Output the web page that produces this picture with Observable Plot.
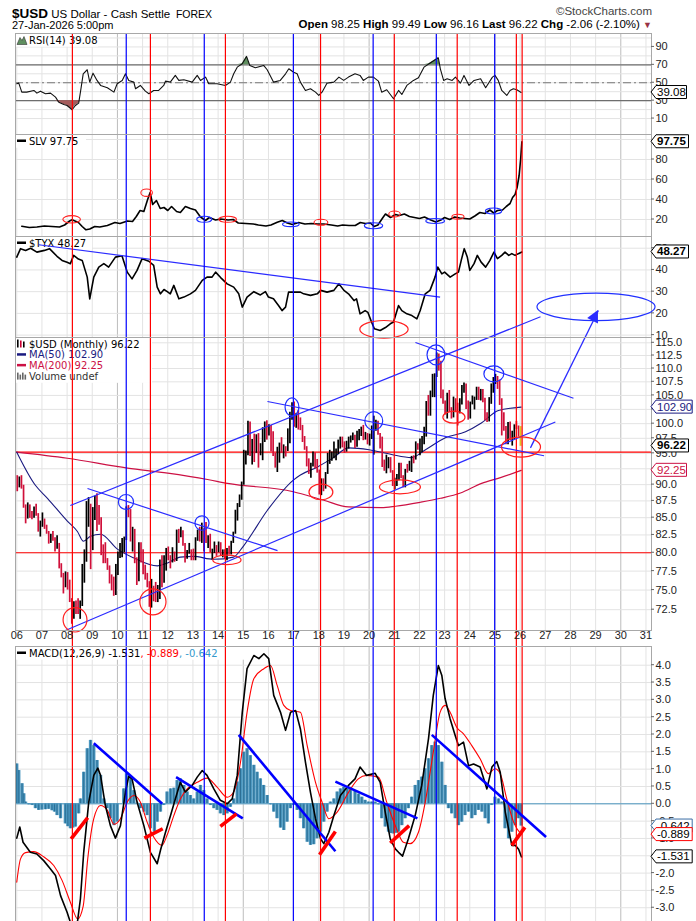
<!DOCTYPE html>
<html><head><meta charset="utf-8">
<script src="https://cdn.jsdelivr.net/npm/d3@7"></script>
<script src="https://cdn.jsdelivr.net/npm/@observablehq/plot@0.6"></script>
<style>
body{margin:0;background:#fff;}
#wrap{position:relative;width:696px;height:921px;overflow:hidden;font-family:'Liberation Sans',Arial,sans-serif;}
.pn{position:absolute;left:0;}
.pn svg{overflow:visible;}
.hd{position:absolute;white-space:nowrap;color:#000;}
</style></head><body><div id="wrap"></div>
<script>
// ---------- DATA ----------
const years = d3.range(2006, 2032);
const redDates = [2008.23, 2011.33, 2014.31, 2018.09, 2021.02, 2023.52, 2025.87, 2026.10];
const blueDates = [2010.37, 2013.47, 2017.01, 2020.18, 2022.69, 2025.01];

// $USD monthly bars Jan 2006 .. Jan 2026
const usdOpen0 = 91.2;
const usdClose = [
89.8,90.9,89.6,86.8,85.2,85.9,85.4,85.2,85.9,85.4,83.3,83.7,
84.9,83.6,82.9,81.6,82.3,81.9,80.6,81.0,78.0,76.7,76.0,76.7,
75.2,73.6,71.8,72.8,72.6,72.4,73.1,77.5,79.4,85.8,86.6,81.4,
86.1,88.0,85.4,85.2,80.2,80.1,78.8,78.4,76.8,76.5,75.0,77.9,
79.5,80.4,81.1,81.8,86.0,85.9,81.6,83.1,78.6,77.2,81.1,79.0,
77.5,76.8,75.9,72.9,74.6,74.3,74.1,74.1,78.6,76.2,78.5,80.2,
79.0,78.8,79.0,78.9,83.0,81.6,82.6,81.2,79.9,79.9,80.2,79.8,
79.3,82.0,83.0,81.5,83.3,83.1,81.5,82.0,80.2,80.2,80.7,80.0,
81.3,79.7,80.1,79.5,80.4,79.8,81.5,82.8,86.0,87.0,88.4,90.3,
94.8,95.3,98.4,94.6,96.9,95.5,97.3,96.0,96.4,97.0,100.2,98.6,
99.6,98.2,94.6,93.1,95.9,96.1,95.5,96.0,95.4,98.5,101.5,102.2,
99.5,101.1,100.4,99.1,97.0,95.6,92.9,92.7,93.1,94.6,93.0,92.1,
89.1,90.6,89.9,91.8,94.0,94.5,94.5,95.1,95.1,97.1,97.3,96.2,
95.6,96.2,97.3,97.5,97.8,96.1,98.5,98.9,99.4,97.4,98.3,96.4,
97.4,98.1,99.0,99.0,98.3,97.4,93.3,92.1,93.9,94.0,91.9,89.9,
90.6,90.9,93.2,91.3,90.0,92.4,92.2,92.6,94.2,94.1,96.0,95.7,
96.5,96.7,98.3,103.0,101.7,104.7,105.9,108.5,111.6,111.0,105.9,103.5,
102.1,104.9,102.5,101.7,104.3,102.9,101.9,103.6,106.2,106.7,103.5,101.3,
103.3,104.2,104.5,106.2,104.6,105.9,104.1,101.7,100.8,104.0,105.7,108.0,
108.2,107.3,104.2,99.5,99.3,96.9,100.0,97.8,97.8,99.8,99.5,98.25,
96.22];
const usdHigh = [
91.4,91.2,91.4,89.9,86.9,87.2,86.9,85.9,86.6,87.0,85.6,84.5,
85.7,84.8,83.9,83.0,82.6,83.0,82.1,82.4,81.3,78.5,77.2,77.4,
77.3,76.3,73.9,73.5,73.6,73.9,73.6,78.4,80.4,87.4,88.0,87.0,
86.5,88.2,88.6,86.8,85.0,81.1,81.4,79.2,78.2,77.0,76.7,78.4,
80.1,81.3,82.0,82.2,86.6,86.8,86.2,83.6,83.3,79.3,81.4,81.4,
80.4,78.3,77.2,76.1,76.4,75.5,76.0,75.6,79.0,79.6,79.6,80.6,
80.8,79.6,80.7,80.1,83.2,83.3,83.6,83.1,81.3,80.3,81.3,80.4,
80.5,82.1,83.2,83.6,84.2,83.4,84.3,82.4,82.6,80.5,81.5,81.0,
81.5,81.4,80.4,80.4,80.6,80.9,81.6,82.9,86.1,87.1,88.4,90.4,
95.5,95.4,100.4,100.3,97.3,98.2,98.1,98.3,96.6,99.3,100.3,100.5,
99.8,99.7,98.6,95.0,96.0,96.7,97.6,96.4,96.1,99.1,102.0,103.7,
103.8,101.8,102.3,101.0,99.7,97.8,96.1,94.1,93.4,95.2,95.1,94.0,
92.3,90.9,90.9,91.9,95.0,95.5,95.2,96.9,95.7,97.2,97.7,97.7,
96.9,97.0,97.7,97.9,98.4,98.0,98.7,99.0,99.4,99.7,98.5,98.3,
98.2,99.6,101.3,100.6,100.4,98.3,97.7,93.9,94.7,94.3,94.3,92.2,
91.0,91.6,93.4,93.4,91.4,92.4,93.2,93.7,94.5,94.6,96.9,96.6,
97.4,97.8,99.4,103.9,105.0,105.8,108.9,109.0,113.0,112.8,111.4,106.0,
104.0,105.4,105.9,102.8,104.7,104.4,103.6,104.4,106.8,107.3,107.1,104.0,
103.8,104.9,104.7,106.5,106.5,106.1,106.1,104.5,101.9,104.6,107.1,108.3,
108.9,108.5,107.8,104.4,101.9,99.5,100.2,100.3,98.7,99.8,100.4,99.6,
99.49];
const usdLow = [
88.9,89.5,89.3,86.4,84.1,84.8,84.9,84.7,84.9,85.2,82.9,82.2,
83.6,83.3,82.6,81.2,81.3,81.6,80.1,80.5,77.8,76.6,74.5,75.3,
75.0,73.4,70.7,71.3,71.9,71.9,71.3,72.9,75.9,78.7,83.6,77.7,
80.3,84.6,83.0,83.9,79.6,78.5,78.5,77.6,75.8,74.9,74.2,74.3,
76.9,79.2,79.3,80.0,81.7,85.0,81.5,80.1,78.5,75.6,76.1,78.6,
77.0,76.3,75.3,72.8,72.7,73.5,73.4,73.4,73.8,75.3,75.9,77.5,
78.9,77.8,78.6,78.7,78.8,81.3,82.1,80.9,78.6,79.1,79.8,78.9,
78.9,78.9,81.6,81.5,81.3,80.1,81.3,80.6,80.0,79.0,79.9,79.5,
80.0,79.5,79.3,79.1,78.9,79.7,79.7,81.3,82.6,84.5,86.5,87.6,
89.9,93.1,94.6,94.5,93.1,93.5,95.0,92.6,94.6,93.8,96.8,97.2,
97.9,95.2,94.5,92.6,91.9,93.4,95.0,94.1,94.4,95.3,96.6,100.6,
99.4,99.2,98.9,98.8,96.8,95.5,92.8,91.6,91.0,92.8,92.5,91.8,
88.4,88.3,88.9,89.3,91.6,93.2,93.7,94.1,93.8,94.8,95.7,95.9,
95.0,95.2,95.7,96.7,97.1,95.8,96.0,97.1,97.8,97.1,97.2,96.4,
96.2,97.3,94.7,98.7,98.0,95.7,92.7,92.1,91.7,92.5,91.8,89.7,
89.2,89.7,90.6,90.9,89.5,89.5,91.8,92.1,91.9,93.3,93.9,95.5,
94.6,95.1,96.4,97.7,101.3,101.3,104.6,104.6,108.3,109.5,104.4,103.4,
101.5,100.8,101.9,100.8,101.0,101.9,99.6,101.7,103.3,105.4,102.5,100.6,
100.8,103.3,102.4,104.1,104.1,104.0,103.7,100.5,100.2,100.3,103.4,105.4,
107.0,106.1,103.2,97.9,98.7,96.4,96.4,97.1,96.2,97.2,99.0,97.7,
96.16];

const ma50 = [[2006.0,95.2],[2006.74,89.9],[2007.22,87.9],[2008.01,84.5],[2008.41,83.0],[2008.65,81.6],[2008.93,82.3],[2009.33,82.6],[2010.0,80.5],[2010.64,79.3],[2011.59,78.2],[2011.99,78.6],[2012.5,79.4],[2013.02,79.5],[2013.82,79.1],[2014.61,79.4],[2015.0,80.9],[2015.96,86.1],[2016.99,90.7],[2017.27,91.5],[2017.95,92.8],[2018.58,94.3],[2019.18,95.9],[2020.0,95.6],[2020.89,94.8],[2021.68,94.3],[2022.24,95.6],[2023.03,97.6],[2023.83,98.6],[2024.46,100.1],[2025.14,102.3],[2026.04,102.9]];
const ma200 = [[2006.0,95.2],[2008.01,94.2],[2010.4,92.6],[2012.0,91.8],[2013.58,90.8],[2014.37,90.2],[2016.99,88.9],[2018.2,87.6],[2019.18,86.6],[2020.49,86.5],[2021.05,86.7],[2022.04,87.3],[2022.84,87.9],[2023.63,88.7],[2024.47,90.2],[2025.22,91.1],[2026.04,92.25]];

const rsi = [[2006.0,48.9],[2006.08,49.6],[2006.2,39.5],[2006.4,39.5],[2006.68,41.4],[2006.8,38.4],[2006.94,40.6],[2007.14,37.7],[2007.34,38.4],[2007.54,33.9],[2007.67,28.3],[2007.87,25.8],[2008.0,24.6],[2008.2,19.8],[2008.33,24.6],[2008.46,27.2],[2008.53,39.5],[2008.64,60.0],[2008.8,64.5],[2008.9,50.7],[2009.03,60.7],[2009.19,52.6],[2009.33,47.0],[2009.6,44.4],[2009.86,39.5],[2009.99,48.9],[2010.19,52.6],[2010.32,60.0],[2010.45,52.6],[2010.65,50.7],[2010.72,43.3],[2010.91,47.0],[2011.11,40.6],[2011.25,37.7],[2011.44,41.4],[2011.64,41.4],[2011.84,47.0],[2011.91,51.8],[2012.1,50.7],[2012.3,58.2],[2012.44,52.6],[2012.64,53.3],[2012.97,50.7],[2013.17,58.2],[2013.3,52.6],[2013.5,56.3],[2013.63,48.9],[2013.96,48.9],[2014.29,47.0],[2014.49,50.7],[2014.62,60.0],[2014.76,67.4],[2014.96,71.2],[2015.13,79.4],[2015.26,69.3],[2015.48,66.7],[2015.81,69.3],[2015.95,64.5],[2016.2,50.7],[2016.47,52.6],[2016.68,60.0],[2016.81,65.6],[2017.0,61.8],[2017.14,60.0],[2017.27,50.7],[2017.47,41.4],[2017.67,43.3],[2017.87,39.5],[2018.0,35.8],[2018.13,39.5],[2018.33,49.6],[2018.6,50.7],[2018.8,56.3],[2018.99,52.6],[2019.18,56.3],[2019.44,60.0],[2019.64,58.2],[2019.77,52.6],[2019.97,56.3],[2020.17,56.3],[2020.37,51.8],[2020.5,39.5],[2020.7,42.2],[2020.97,32.1],[2021.17,41.4],[2021.3,36.9],[2021.5,47.0],[2021.76,52.6],[2021.96,55.5],[2022.18,67.4],[2022.38,71.2],[2022.58,74.9],[2022.75,77.9],[2022.83,65.6],[2022.96,52.6],[2023.1,54.4],[2023.3,52.6],[2023.43,56.3],[2023.63,49.6],[2023.77,58.2],[2023.97,47.0],[2024.17,52.6],[2024.43,54.4],[2024.63,44.4],[2024.9,56.3],[2025.0,58.2],[2025.13,52.6],[2025.27,41.4],[2025.47,35.8],[2025.6,41.4],[2025.73,43.3],[2025.87,42.2],[2026.04,39.08]];

const slv = [[2006.2,13.3],[2006.5,12.0],[2006.8,12.5],[2007.1,13.5],[2007.4,13.0],[2007.7,12.5],[2007.9,14.5],[2008.1,18.5],[2008.2,19.7],[2008.45,17.0],[2008.6,13.0],[2008.75,9.7],[2008.9,10.5],[2009.1,13.0],[2009.3,12.5],[2009.6,14.0],[2009.9,17.0],[2010.1,16.0],[2010.4,18.5],[2010.6,18.0],[2010.75,23.0],[2010.9,29.0],[2011.05,28.0],[2011.2,40.0],[2011.3,47.0],[2011.4,35.0],[2011.55,39.0],[2011.7,31.0],[2011.85,32.0],[2012.0,29.0],[2012.15,33.0],[2012.35,28.0],[2012.5,27.0],[2012.7,33.0],[2012.9,31.0],[2013.1,29.5],[2013.3,22.5],[2013.5,19.0],[2013.65,22.0],[2013.9,19.5],[2014.1,20.5],[2014.4,19.5],[2014.6,20.0],[2014.8,16.5],[2015.1,16.0],[2015.4,15.5],[2015.6,14.5],[2015.9,13.5],[2016.1,14.5],[2016.35,17.3],[2016.55,19.0],[2016.75,16.5],[2016.95,15.0],[2017.2,17.0],[2017.45,15.5],[2017.7,16.0],[2017.95,15.5],[2018.2,15.5],[2018.5,14.5],[2018.75,13.5],[2018.95,14.5],[2019.2,14.0],[2019.45,14.0],[2019.65,17.0],[2019.85,16.0],[2020.05,16.5],[2020.2,13.0],[2020.35,14.5],[2020.55,22.0],[2020.65,25.5],[2020.85,22.0],[2021.05,25.0],[2021.2,24.0],[2021.4,25.5],[2021.6,23.0],[2021.8,22.0],[2022.0,21.0],[2022.2,22.5],[2022.45,19.5],[2022.65,17.5],[2022.85,19.5],[2023.0,22.0],[2023.2,20.0],[2023.4,22.5],[2023.6,21.5],[2023.8,21.0],[2024.0,20.5],[2024.2,23.5],[2024.4,27.0],[2024.6,26.0],[2024.8,29.5],[2024.95,26.5],[2025.1,29.0],[2025.3,29.5],[2025.45,33.0],[2025.6,36.0],[2025.7,42.0],[2025.8,45.0],[2025.88,52.0],[2025.96,64.0],[2026.02,80.0],[2026.07,97.75]];

const tyx = [[2006.0,45.9],[2006.15,49.8],[2006.35,49.0],[2006.55,50.0],[2006.8,48.2],[2007.1,49.0],[2007.3,49.8],[2007.6,46.3],[2007.8,44.4],[2008.0,43.5],[2008.13,42.9],[2008.26,46.7],[2008.45,45.0],[2008.6,44.4],[2008.8,36.7],[2008.9,26.7],[2009.06,36.7],[2009.26,41.3],[2009.46,42.9],[2009.65,41.3],[2009.92,45.9],[2010.18,46.5],[2010.39,39.0],[2010.58,35.9],[2010.78,39.8],[2010.98,45.2],[2011.25,44.0],[2011.44,42.1],[2011.58,32.1],[2011.71,29.0],[2011.85,31.0],[2011.98,30.0],[2012.1,29.0],[2012.24,32.9],[2012.44,26.7],[2012.64,27.5],[2012.9,29.0],[2013.1,30.6],[2013.37,35.2],[2013.56,36.7],[2013.76,36.7],[2013.9,39.0],[2014.1,36.5],[2014.36,33.6],[2014.62,32.1],[2014.82,29.0],[2014.96,22.9],[2015.15,27.5],[2015.42,30.0],[2015.68,28.5],[2015.88,30.0],[2016.0,27.5],[2016.2,26.7],[2016.4,23.6],[2016.54,21.3],[2016.68,22.9],[2016.8,29.8],[2017.0,29.8],[2017.27,29.8],[2017.4,29.0],[2017.67,28.3],[2017.94,29.0],[2018.07,30.6],[2018.33,29.8],[2018.6,30.6],[2018.8,33.6],[2019.0,30.6],[2019.18,29.0],[2019.4,25.9],[2019.5,26.7],[2019.64,19.8],[2019.84,21.3],[2019.95,20.5],[2020.1,15.9],[2020.21,12.9],[2020.44,12.1],[2020.65,13.5],[2020.84,15.2],[2020.97,16.0],[2021.17,23.6],[2021.3,21.3],[2021.5,19.8],[2021.7,19.0],[2021.9,17.5],[2022.03,21.3],[2022.23,29.0],[2022.42,30.6],[2022.62,36.7],[2022.73,41.3],[2022.89,38.2],[2023.0,39.0],[2023.22,36.7],[2023.42,38.2],[2023.55,39.0],[2023.66,44.4],[2023.78,49.8],[2023.9,46.0],[2024.0,39.8],[2024.17,42.9],[2024.3,46.7],[2024.45,43.6],[2024.63,41.3],[2024.8,44.4],[2024.96,48.2],[2025.1,45.2],[2025.27,46.7],[2025.4,48.2],[2025.55,46.7],[2025.67,47.5],[2025.8,46.7],[2025.93,47.5],[2026.07,48.27]];

const macd = [[2006.0,-0.99],[2006.12,-0.67],[2006.25,-1.11],[2006.54,-1.40],[2006.8,-1.45],[2007.07,-1.64],[2007.34,-1.88],[2007.54,-2.07],[2007.74,-2.65],[2008.0,-3.13],[2008.13,-3.42],[2008.4,-3.47],[2008.53,-2.74],[2008.66,-1.40],[2008.86,0.05],[2009.06,0.82],[2009.22,1.03],[2009.33,0.82],[2009.52,-0.05],[2009.72,-0.63],[2009.92,-0.99],[2010.12,-0.63],[2010.32,0.34],[2010.45,0.80],[2010.58,0.72],[2010.78,0.05],[2011.05,-0.63],[2011.31,-1.40],[2011.58,-1.73],[2011.71,-1.34],[2011.91,-0.82],[2012.11,-0.34],[2012.3,0.14],[2012.5,0.62],[2012.7,0.34],[2012.97,0.53],[2013.17,0.77],[2013.37,0.96],[2013.56,0.82],[2013.83,0.43],[2014.09,0.10],[2014.36,0.0],[2014.56,0.14],[2014.76,0.82],[2014.96,2.64],[2015.15,3.90],[2015.42,4.28],[2015.62,4.19],[2015.82,4.33],[2016.01,4.19],[2016.21,3.13],[2016.48,2.64],[2016.68,2.12],[2016.88,2.64],[2017.08,2.69],[2017.27,2.16],[2017.47,1.20],[2017.67,0.33],[2017.87,-0.43],[2018.07,-1.01],[2018.2,-1.15],[2018.4,-0.82],[2018.6,-0.34],[2018.86,0.24],[2019.18,0.53],[2019.44,0.72],[2019.64,1.06],[2019.9,0.82],[2020.24,0.88],[2020.44,0.62],[2020.64,-0.24],[2020.84,-1.01],[2021.04,-1.30],[2021.17,-1.40],[2021.33,-1.51],[2021.56,-1.01],[2021.83,-0.34],[2022.09,0.53],[2022.36,1.88],[2022.55,3.13],[2022.75,3.99],[2022.89,3.70],[2023.02,3.03],[2023.22,2.45],[2023.42,1.97],[2023.55,1.68],[2023.75,1.78],[2023.95,1.10],[2024.15,1.15],[2024.41,1.06],[2024.68,0.43],[2024.88,1.06],[2025.07,1.22],[2025.21,0.91],[2025.41,-0.24],[2025.67,-1.20],[2025.81,-1.20],[2025.94,-1.31],[2026.05,-1.531]];
const signal = [[2006.0,-2.26],[2006.15,-1.59],[2006.35,-1.41],[2006.67,-1.38],[2007.07,-1.53],[2007.47,-1.78],[2007.8,-2.21],[2008.13,-2.84],[2008.42,-3.32],[2008.64,-2.95],[2008.82,-1.59],[2009.06,-0.43],[2009.33,-0.05],[2009.6,-0.19],[2009.86,-0.59],[2010.12,-0.43],[2010.39,0.05],[2010.65,0.24],[2010.91,0.05],[2011.18,-0.53],[2011.44,-0.96],[2011.77,-1.20],[2011.97,-0.91],[2012.24,-0.34],[2012.5,0.14],[2012.77,0.43],[2013.17,0.62],[2013.56,0.74],[2013.96,0.48],[2014.36,0.19],[2014.62,0.34],[2014.89,1.20],[2015.15,2.64],[2015.42,3.61],[2015.82,3.90],[2016.08,3.99],[2016.35,3.41],[2016.61,2.84],[2016.88,2.69],[2017.27,2.64],[2017.54,1.68],[2017.87,0.62],[2018.13,0.05],[2018.4,-0.43],[2018.73,-0.24],[2019.18,0.33],[2019.57,0.72],[2019.9,0.82],[2020.37,0.77],[2020.7,0.05],[2021.04,-0.63],[2021.36,-1.11],[2021.63,-1.15],[2021.96,-0.82],[2022.23,0.05],[2022.55,1.49],[2022.82,2.64],[2023.02,2.84],[2023.22,2.64],[2023.48,2.21],[2023.75,2.02],[2024.08,1.68],[2024.41,1.30],[2024.74,0.87],[2025.0,1.01],[2025.21,0.87],[2025.47,0.14],[2025.74,-0.53],[2026.05,-0.889]];
const hist = [[2006.0,1.15],[2006.08,0.96],[2006.21,0.58],[2006.28,0.29],[2006.35,0.05],[2006.48,-0.03],[2006.61,-0.05],[2006.74,-0.14],[2006.87,-0.19],[2007.0,-0.18],[2007.14,-0.17],[2007.27,-0.16],[2007.4,-0.2],[2007.5,-0.24],[2007.6,-0.34],[2007.74,-0.43],[2007.93,-0.58],[2008.03,-0.66],[2008.13,-0.72],[2008.23,-0.70],[2008.33,-0.67],[2008.46,-0.29],[2008.53,0.14],[2008.66,0.91],[2008.8,1.59],[2008.93,1.83],[2009.06,1.68],[2009.19,1.25],[2009.33,0.82],[2009.46,0.14],[2009.59,-0.14],[2009.72,-0.43],[2009.86,-0.63],[2009.99,-0.53],[2010.12,0.0],[2010.25,0.43],[2010.36,0.87],[2010.52,0.77],[2010.65,0.38],[2010.78,0.02],[2010.91,-0.14],[2011.05,-0.24],[2011.18,-0.34],[2011.31,-0.72],[2011.47,-0.82],[2011.58,-0.53],[2011.71,-0.24],[2011.84,-0.05],[2011.97,0.34],[2012.11,0.43],[2012.24,0.45],[2012.37,0.67],[2012.5,0.72],[2012.64,0.53],[2012.77,0.34],[2012.9,0.24],[2013.03,0.14],[2013.17,0.34],[2013.3,0.53],[2013.43,0.38],[2013.56,0.14],[2013.7,-0.05],[2013.83,-0.14],[2013.96,-0.19],[2014.09,-0.29],[2014.23,-0.34],[2014.36,-0.29],[2014.49,-0.10],[2014.62,0.14],[2014.76,0.63],[2014.89,1.01],[2015.02,1.49],[2015.15,1.59],[2015.28,1.39],[2015.42,1.11],[2015.55,0.91],[2015.68,0.72],[2015.81,0.53],[2015.95,0.24],[2016.08,-0.03],[2016.21,-0.24],[2016.34,-0.43],[2016.48,-0.70],[2016.61,-0.77],[2016.74,-0.53],[2016.87,-0.14],[2017.0,-0.05],[2017.14,-0.19],[2017.27,-0.43],[2017.4,-0.72],[2017.54,-1.11],[2017.67,-1.20],[2017.8,-1.18],[2017.93,-1.01],[2018.07,-0.82],[2018.2,-0.53],[2018.33,-0.24],[2018.46,0.05],[2018.6,0.14],[2018.73,0.34],[2018.86,0.43],[2018.99,0.48],[2019.13,0.43],[2019.26,0.42],[2019.44,0.38],[2019.58,0.28],[2019.71,0.19],[2019.84,0.1],[2019.97,0.05],[2020.1,0.05],[2020.24,0.05],[2020.37,-0.03],[2020.5,-0.43],[2020.64,-0.67],[2020.77,-0.82],[2020.87,-0.86],[2020.97,-0.87],[2021.07,-0.85],[2021.17,-0.82],[2021.3,-0.63],[2021.43,-0.43],[2021.56,-0.14],[2021.69,0.19],[2021.83,0.53],[2021.96,0.67],[2022.09,0.77],[2022.22,1.01],[2022.36,1.30],[2022.49,1.68],[2022.62,1.78],[2022.75,1.68],[2022.89,1.20],[2023.02,0.53],[2023.15,-0.14],[2023.28,-0.29],[2023.42,-0.43],[2023.55,-0.63],[2023.68,-0.53],[2023.81,-0.34],[2023.95,-0.24],[2024.08,-0.43],[2024.21,-0.34],[2024.34,-0.19],[2024.48,-0.24],[2024.61,-0.43],[2024.74,-0.58],[2024.87,-0.05],[2025.0,0.19],[2025.14,0.14],[2025.27,0.05],[2025.4,-0.72],[2025.54,-1.01],[2025.67,-0.82],[2025.81,-0.63],[2025.94,-0.43],[2026.04,-0.642]];

// annotations (data coordinates: [x1, x2, yLow, yHigh] for ellipses, [x1,y1,x2,y2] for lines)
const usdRedEllipses = [[2007.86,2008.81,69.7,72.7],[2010.91,2011.95,71.8,75.1],[2013.81,2014.93,78.3,79.6],[2017.63,2018.58,87.6,90.0],[2020.43,2022.06,88.5,90.65],[2022.95,2023.83,100.0,102.1],[2025.28,2026.83,94.3,97.65]];
const usdBlueEllipses = [[2010.06,2010.66,86.15,88.4],[2013.10,2013.66,83.1,85.2],[2016.68,2017.23,101.25,104.45],[2019.85,2020.56,98.8,102.0],[2022.32,2023.03,110.6,114.5],[2024.58,2025.37,107.4,110.4],[2026.69,2031.38,119.4,125.2]];
const usdLines = [[2007.93,69.94,2027.4,100.3],[2008.13,86.8,2026.81,120.3],[2008.81,89.4,2016.36,80.3],[2015.96,103.9,2026.95,94.6],[2021.84,115.07,2028.12,104.5]];
const usdArrow = [[2026.41,95.9,2029.11,121.6]];
const usdRedLevels = [95.2, 80.0];
const slvRedEllipses = [[2007.85,2008.55,16.0,23.4],[2010.95,2011.41,42.6,50.0],[2014.05,2014.75,16.7,22.7],[2017.83,2018.38,13.7,19.7],[2020.8,2021.26,22,28],[2023.31,2023.79,19.8,24.8]];
const slvBlueEllipses = [[2013.17,2013.77,16.7,22.7],[2016.58,2017.24,12.4,17.0],[2019.83,2020.56,10.3,16.3],[2022.27,2023.02,15.5,20.5],[2024.64,2025.29,25,31]];
const tyxLines = [[2006.87,51.6,2022.82,27.5]];
const tyxRedEllipses = [[2019.65,2021.57,8.4,16.5]];
const macdBlueLines = [[2009.06,1.75,2011.78,0.0],[2012.33,0.77,2014.98,-0.42],[2014.82,1.99,2018.66,-1.37],[2018.66,0.64,2021.92,-0.42],[2022.49,1.99,2027.03,-0.96]];
const macdRedLines = [[2008.16,-1.01,2008.82,-0.40],[2011.07,-0.99,2011.8,-0.72],[2014.09,-0.65,2014.73,-0.29],[2018.03,-1.47,2018.66,-0.80],[2020.84,-1.13,2021.59,-0.63],[2025.67,-1.20,2026.19,-0.68]];

// axis ticks
const rsiTicks = [10,30,50,70,90], rsiGrid = [10,20,30,40,50,60,70,80,90,100];
const slvTicks = [20,40,60,80], slvGrid = [20,40,60,80,100];
const tyxTicks = [10,20,30,40,50];
const usdTicks = d3.range(72.5, 115.01, 2.5);
const macdTicks = d3.range(-3, 4.01, 0.5);
// last values
const last = {rsi:39.08, slv:97.75, tyx:48.27, usd:96.22, ma50:102.90, ma200:92.25, macd:-1.531, sig:-0.889, hist:-0.642};

// ---------- RENDER ----------
const X0 = 2005.95, X1 = 2031.22;
const wrap = document.getElementById("wrap");
const usd = usdClose.map((c,i)=>({t: 2006 + i/12 + 0.02, o: i ? usdClose[i-1] : usdOpen0, c, h: usdHigh[i], l: usdLow[i], last: i === usdClose.length-1}));
const fx = d=>d[0], fy = d=>d[1];

function vlines(list, color, w){
  return (index, scales, values, dims) => {
    const g = d3.create("svg:g");
    for (const t of list){ const x = scales.x(t);
      g.append("line").attr("x1",x).attr("x2",x).attr("y1",0).attr("y2",dims.height).attr("stroke",color).attr("stroke-width",w); }
    return g.node();
  };
}
function ellipses(list, color, w){
  return (index, scales) => {
    const g = d3.create("svg:g").attr("fill","none").attr("stroke",color).attr("stroke-width",w);
    for (const e of list){
      const xa=scales.x(e[0]), xb=scales.x(e[1]), ya=scales.y(e[2]), yb=scales.y(e[3]);
      g.append("ellipse").attr("cx",(xa+xb)/2).attr("cy",(ya+yb)/2).attr("rx",Math.abs(xb-xa)/2).attr("ry",Math.abs(yb-ya)/2);
    }
    return g.node();
  };
}
function arrowHead(list, color){
  return (index, scales) => {
    const g = d3.create("svg:g");
    for (const a of list){
      const x1=scales.x(a[0]), y1=scales.y(a[1]), x2=scales.x(a[2]), y2=scales.y(a[3]);
      const L=Math.hypot(x2-x1,y2-y1), ux=(x2-x1)/L, uy=(y2-y1)/L, hl=12, hw=6;
      const bx=x2-ux*hl, by=y2-uy*hl;
      g.append("path").attr("d",`M${x2},${y2}L${bx-uy*hw},${by+ux*hw}L${bx+uy*hw},${by-ux*hw}Z`).attr("fill",color);
    }
    return g.node();
  };
}
function rticks(list){
  return (index, scales, values, dims) => {
    const g = d3.create("svg:g").attr("stroke","#666");
    const x = dims.width - dims.marginRight;
    for (const v of list){ const y = scales.y(v); g.append("line").attr("x1",x).attr("x2",x+3).attr("y1",y).attr("y2",y); }
    return g.node();
  };
}
function tags(list){ // [value, label, stroke, text, bold]
  return (index, scales, values, dims) => {
    const g = d3.create("svg:g").attr("text-anchor","start").attr("font-family","'Liberation Sans',Arial,sans-serif");
    const x = dims.width - dims.marginRight;
    for (const [v, lab, st, tc, b] of list){
      const y = scales.y(v), w = lab.length*5.7 + (b?4:2);
      g.append("path").attr("d",`M${x},${y}L${x+5},${y-6.5}L${x+5+w},${y-6.5}L${x+5+w},${y+6.5}L${x+5},${y+6.5}Z`).attr("fill","#fff").attr("stroke",st);
      g.append("text").attr("x",x+6).attr("y",y+4).attr("font-size",11.5).attr("font-weight",b?"bold":"normal").attr("fill",tc).text(lab);
    }
    return g.node();
  };
}
function legend(rows, bgW){
  return () => {
    const g = d3.create("svg:g").attr("font-family","'DejaVu Sans',Verdana,sans-serif").attr("font-size",10).attr("text-anchor","start");
    g.append("rect").attr("x",16).attr("y",1).attr("width",bgW).attr("height",rows.length*10.7+2).attr("fill","#fff");
    rows.forEach((r,i) => {
      const y = 10.5 + i*10.7;
      if (r.icon === "dash") g.append("rect").attr("x",17).attr("y",y-5).attr("width",9).attr("height",2.5).attr("fill",r.ic);
      if (r.icon === "mount") g.append("path").attr("d",`M17,${y+1}L20,${y-6}L22,${y-3}L24,${y-7}L27,${y+1}Z`).attr("fill","#5f8f5f").attr("stroke","#333").attr("stroke-width",0.6);
      if (r.icon === "bars") { for (let k=0;k<3;k++) g.append("rect").attr("x",17+k*3).attr("y",y-8+k).attr("width",1.6).attr("height",8-k).attr("fill",k==1?"#cc0033":"#000"); }
      if (r.icon === "vol") { for (let k=0;k<4;k++) g.append("rect").attr("x",17+k*2.5).attr("y",y-7+(k%2)*2).attr("width",1.6).attr("height",7-(k%2)*2).attr("fill","#666"); }
      const t = g.append("text").attr("x",29).attr("y",y);
      for (const [s,c] of r.parts) t.append("tspan").attr("fill",c).text(s);
    });
    return g.node();
  };
}
const grids = () => [
  Plot.ruleX(years.filter(y=>y%5), {x:d=>d, stroke:"#e3e3e3"}),
  Plot.ruleX(years.filter(y=>y%5===0), {x:d=>d, stroke:"#bdbdbd"})
];
const verts = () => [vlines(blueDates, "#0000ff", 1.2), vlines(redDates, "#ff0000", 1.2)];
const axisLabels = (ticks, fmt) => [
  rticks(ticks),
  Plot.text(ticks, {y:d=>d, text:fmt, frameAnchor:"right", dx:4, textAnchor:"start", fontSize:11, fill:"#222"})
];
function panel(top, height, y, marks, mb=0){
  const svg = Plot.plot({
    width:696, height, marginLeft:15, marginRight:45, marginTop:0, marginBottom:mb,
    x:{domain:[X0,X1], axis:null}, y:{...y, axis:null},
    style:{background:"transparent", overflow:"visible", fontFamily:"'Liberation Sans',Arial,sans-serif", fontSize:"11px"},
    marks
  });
  const d = document.createElement("div"); d.className = "pn"; d.style.top = top+"px";
  d.appendChild(svg); wrap.appendChild(d);
}

// RSI
panel(33, 101, {domain:[-7.8,105]}, [
  ...grids(),
  Plot.ruleY(rsiGrid, {stroke:"#e3e3e3"}),
  Plot.ruleY([70,30], {stroke:"#6e6e6e", strokeWidth:1.2}),
  Plot.ruleY([50], {stroke:"#777", strokeDasharray:"8,3,2,3"}),
  legend([{icon:"mount", parts:[["RSI(14) "+last.rsi.toFixed(2),"#000"]]}], 82),
  Plot.areaY(rsi, {x:fx, y1:70, y2:d=>Math.max(70,d[1]), fill:"#5f8f5f"}),
  Plot.areaY(rsi, {x:fx, y1:d=>Math.min(30,d[1]), y2:30, fill:"#a45c5c"}),
  Plot.line(rsi, {x:fx, y:fy, stroke:"#111", strokeWidth:1.1}),
  ...verts(),
  Plot.frame({stroke:"#a8a8a8"}),
  ...axisLabels(rsiTicks, d=>String(d)),
  tags([[last.rsi, last.rsi.toFixed(2), "#000", "#000", false]])
]);
// SLV
panel(134, 102, {domain:[3,105]}, [
  ...grids(),
  Plot.ruleY(slvGrid, {stroke:"#e3e3e3"}),
  legend([{icon:"dash", ic:"#000", parts:[["SLV "+last.slv.toFixed(2),"#000"]]}], 70),
  Plot.line(slv, {x:fx, y:fy, stroke:"#000", strokeWidth:1.6}),
  ...verts(),
  ellipses(slvRedEllipses, "#ff2020", 1.1),
  ellipses(slvBlueEllipses, "#2030ff", 1.1),
  Plot.frame({stroke:"#a8a8a8"}),
  ...axisLabels(slvTicks, d=>String(d)),
  tags([[last.slv, last.slv.toFixed(2), "#000", "#000", true]])
]);
// TYX
panel(236, 101, {domain:[8.9,55.4]}, [
  ...grids(),
  Plot.ruleY(tyxTicks, {stroke:"#e3e3e3"}),
  legend([{icon:"dash", ic:"#000", parts:[["$TYX "+last.tyx.toFixed(2),"#000"]]}], 76),
  Plot.line(tyx, {x:fx, y:fy, stroke:"#000", strokeWidth:1.6}),
  Plot.link(tyxLines, {x1:d=>d[0], y1:d=>d[1], x2:d=>d[2], y2:d=>d[3], stroke:"#2b2bff", strokeWidth:1.2}),
  ...verts(),
  ellipses(tyxRedEllipses, "#ff2020", 1.2),
  Plot.frame({stroke:"#a8a8a8"}),
  ...axisLabels(tyxTicks, d=>String(d)),
  tags([[last.tyx, last.tyx.toFixed(2), "#000", "#000", true]])
]);
// $USD
panel(337, 309, {type:"log", domain:[69.94,116.06]}, [
  ...grids(),
  Plot.ruleY(usdTicks, {stroke:"#e3e3e3"}),
  legend([
    {icon:"bars", parts:[["$USD (Monthly) "+last.usd.toFixed(2),"#000"]]},
    {icon:"dash", ic:"#1a1a80", parts:[["MA(50) "+last.ma50.toFixed(2),"#1a1a80"]]},
    {icon:"dash", ic:"#cc1144", parts:[["MA(200) "+last.ma200.toFixed(2),"#cc1144"]]},
    {icon:"vol", parts:[["Volume undef","#333"]]}
  ], 136),
  Plot.ruleY(usdRedLevels, {stroke:"#ff0000", strokeWidth:1.2}),
  Plot.line(ma200, {x:fx, y:fy, stroke:"#cc1144", strokeWidth:1.2, curve:"monotone-x"}),
  Plot.line(ma50, {x:fx, y:fy, stroke:"#1a1a80", strokeWidth:1.1, curve:"monotone-x"}),
  Plot.ruleX(usd.filter(d=>!d.last && d.c>=d.o), {x:"t", y1:"l", y2:"h", stroke:"#000", strokeWidth:1.7}),
  Plot.ruleX(usd.filter(d=>!d.last && d.c<d.o), {x:"t", y1:"l", y2:"h", stroke:"#d0103a", strokeWidth:1.7}),
  Plot.ruleX(usd.filter(d=>d.last), {x:"t", y1:"l", y2:"h", stroke:"#e0c020", strokeWidth:2}),
  ...verts(),
  Plot.link(usdLines, {x1:d=>d[0], y1:d=>d[1], x2:d=>d[2], y2:d=>d[3], stroke:"#2b2bff", strokeWidth:1.2}),
  Plot.link(usdArrow, {x1:d=>d[0], y1:d=>d[1], x2:d=>d[2], y2:d=>d[3], stroke:"#2b2bff", strokeWidth:1.3}),
  arrowHead(usdArrow, "#2b2bff"),
  ellipses(usdRedEllipses, "#ff2020", 1.2),
  ellipses(usdBlueEllipses, "#2030ff", 1.2),
  Plot.frame({stroke:"#a8a8a8"}),
  ...axisLabels(usdTicks, d=>d.toFixed(1)),
  Plot.text(years, {x:d=>d, text:d=>String(d%100).padStart(2,"0"), frameAnchor:"bottom", dy:8, fontSize:11, fill:"#222"}),
  tags([[last.ma50, last.ma50.toFixed(2), "#1a1a80", "#1a1a80", false],[last.ma200, last.ma200.toFixed(2), "#cc1144", "#cc1144", false],[last.usd, last.usd.toFixed(2), "#000", "#000", true]])
], 16);
// MACD
panel(646, 275, {domain:[-3.397,4.54]}, [
  ...grids(),
  Plot.ruleY(macdTicks, {stroke:"#e3e3e3"}),
  legend([{icon:"dash", ic:"#000", parts:[["MACD(12,26,9) "+last.macd.toFixed(3),"#000"],[", "+last.sig.toFixed(3),"#ff0000"],[", "+last.hist.toFixed(3),"#3399cc"]]}], 230),
  Plot.ruleX(hist, {x:fx, y1:0, y2:fy, stroke:"#4a96bf", strokeWidth:3.3}),
  Plot.ruleX(hist, {x:fx, y1:0, y2:fy, stroke:"#1f5e82", strokeWidth:0.7}),
  Plot.ruleY([0], {stroke:"#4a96bf", strokeWidth:1}),
  Plot.line(signal, {x:fx, y:fy, stroke:"#ff0000", strokeWidth:1.1, curve:"monotone-x"}),
  Plot.line(macd, {x:fx, y:fy, stroke:"#000", strokeWidth:1.6}),
  ...verts(),
  Plot.link(macdBlueLines, {x1:d=>d[0], y1:d=>d[1], x2:d=>d[2], y2:d=>d[3], stroke:"#0000ff", strokeWidth:2.6}),
  Plot.link(macdRedLines, {x1:d=>d[0], y1:d=>d[1], x2:d=>d[2], y2:d=>d[3], stroke:"#ff0000", strokeWidth:3.6}),
  Plot.frame({stroke:"#a8a8a8"}),
  ...axisLabels(macdTicks, d=>d.toFixed(1)),
  tags([[last.hist, last.hist.toFixed(3), "#3a6ea5", "#000", false],[last.sig, last.sig.toFixed(3), "#ff0000", "#000", false],[last.macd, last.macd.toFixed(3), "#000", "#000", false]])
]);

// header
const hd = document.createElement("div");
hd.innerHTML = `
<div class="hd" style="left:12px;top:4px;"><span style="font-weight:bold;font-size:13.5px;">$USD</span><span style="font-size:11.5px;"> US Dollar - Cash Settle</span><span style="font-size:10.5px;">&nbsp; FOREX</span></div>
<div class="hd" style="right:44px;top:5px;font-size:11.5px;color:#444;">&copy;StockCharts.com</div>
<div class="hd" style="left:12px;top:19px;font-size:11px;">27-Jan-2026 5:00pm</div>
<div class="hd" style="right:44px;top:18px;font-size:11.5px;"><b>Open</b> 98.25 <b>High</b> 99.49 <b>Low</b> 96.16 <b>Last</b> 96.22 <b>Chg</b> -2.06 (-2.10%) <span style="color:#993344;font-size:9px;">&#9660;</span></div>`;
wrap.appendChild(hd);
</script></body></html>
